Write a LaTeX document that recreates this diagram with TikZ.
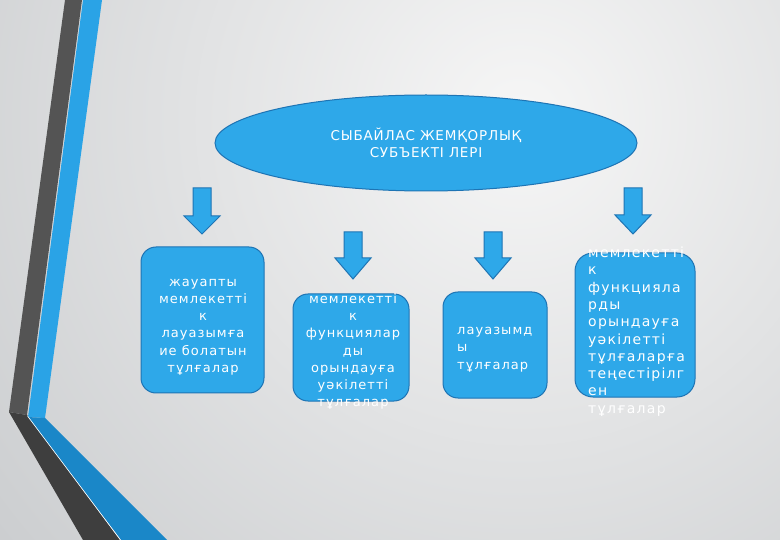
\documentclass[tikz,border=0pt]{standalone}
\usepackage{fontspec}
\setmainfont{DejaVu Sans}
\newfontfamily\boxfont[LetterSpace=8]{DejaVu Sans}
\newfontfamily\wideboxfont[LetterSpace=9]{DejaVu Sans}
\newfontfamily\ttlfont[LetterSpace=6]{DejaVu Sans}
\usetikzlibrary{shapes.geometric}
\definecolor{skyfill}{HTML}{2EA8E9}
\definecolor{skyline}{HTML}{1E74B4}
\definecolor{stripedark}{HTML}{545454}
\definecolor{stripedarklow}{HTML}{3E3E3E}
\definecolor{stripeblue}{HTML}{2AA3E6}
\definecolor{stripebluelow}{HTML}{1A87C8}
\definecolor{bgin}{HTML}{F6F6F6}
\definecolor{bgout}{HTML}{A4A8AC}
\tikzset{
  shapefill/.style={fill=skyfill, draw=skyline, line width=1pt},
  blockbox/.style={shapefill, rounded corners=15pt, inner sep=0pt},
  boxtext/.style={text=white, font=\boxfont\fontsize{13}{17.3}\selectfont, inner sep=0pt},
  wideboxtext/.style={text=white, font=\wideboxfont\fontsize{14}{17.3}\selectfont, inner sep=0pt},
  pics/dnarrow/.style n args={2}{code={
    \draw[shapefill] (-9,0) -- (9,0) -- (9,#1) -- (18,#1) -- (0,#2) -- (-18,#1) -- (-9,#1) -- cycle;}}
}
\begin{document}
\begin{tikzpicture}[x=1pt,y=-1pt]
\useasboundingbox (0,0) rectangle (780,540);
% background
\begin{scope}
\clip (0,0) rectangle (780,540);
\shade[inner color=bgin, outer color=bgout] (520,120) circle (1300);
\end{scope}
% left stripes
\fill[stripedark] (65,0) -- (82,0) -- (27,415) -- (9,412) -- cycle;
\fill[stripeblue] (83,0) -- (102,0) -- (45,418) -- (28,417) -- cycle;
\fill[stripedarklow] (9,412) -- (27,415) -- (120,540) -- (83,540) -- cycle;
\fill[stripebluelow] (28,417) -- (45,418) -- (167,540) -- (121,540) -- cycle;
\draw[white, line width=0.6pt] (27.5,416) -- (120.5,540);
% title ellipse
\node[shapefill, ellipse, minimum width=422pt, minimum height=96pt, inner sep=0pt,
      align=center, text=white, font=\ttlfont\fontsize{13.5}{17}\selectfont] (title) at (426,143)
  {СЫБАЙЛАС ЖЕМҚОРЛЫҚ\\СУБЪЕКТІ ЛЕРІ};
% arrows
\pic (ar1) at (202,188) {dnarrow={28}{46}};
\pic (ar2) at (353,232) {dnarrow={26}{47}};
\pic (ar3) at (493,232) {dnarrow={26}{47}};
\pic (ar4) at (633,188) {dnarrow={27}{46}};
% boxes
\node[blockbox, minimum width=123pt, minimum height=146pt] (b1) at (202.5,320) {};
\node[blockbox, minimum width=116pt, minimum height=107pt] (b2) at (351,347.5) {};
\node[blockbox, minimum width=104pt, minimum height=106pt] (b3) at (495,345) {};
\node[blockbox, minimum width=120pt, minimum height=144pt, rounded corners=18pt] (b4) at (635,325) {};
% texts
\node[boxtext, align=center] (t1) at (203,327) {жауапты\\мемлекетті\\к\\лауазымға\\ие болатын\\тұлғалар};
\node[boxtext, align=center] (t2) at (353,351.5) {мемлекетті\\к\\функциялар\\ды\\орындауға\\уәкілетті\\тұлғалар};
\node[boxtext, align=left, anchor=west] (t3) at (457,349.5) {лауазымд\\ы\\тұлғалар};
\node[wideboxtext, align=left, anchor=west] (t4) at (588,331.5) {мемлекетті\\к\\функцияла\\рды\\орындауға\\уәкілетті\\тұлғаларға\\теңестірілг\\ен\\тұлғалар};
\end{tikzpicture}
\end{document}
